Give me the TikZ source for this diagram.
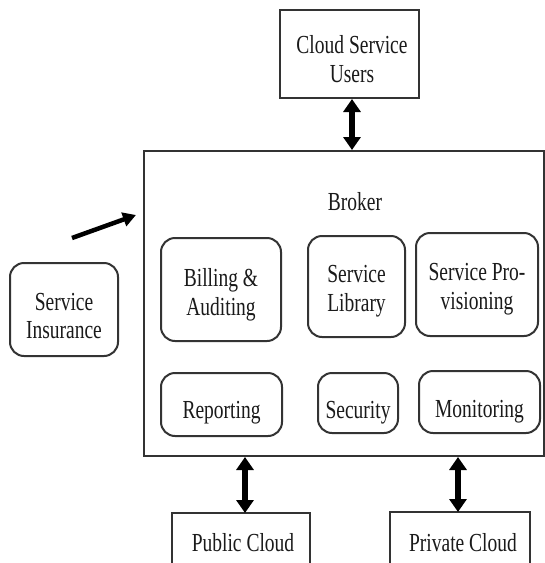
\documentclass[tikz,border=0pt]{standalone}
\usepackage{fontspec}
\setmainfont{Liberation Serif}[FakeStretch=0.75]
\usetikzlibrary{arrows.meta}
\definecolor{ink}{HTML}{333333}
\definecolor{txt}{HTML}{1a1a1a}
\begin{document}
\begin{tikzpicture}[x=1pt,y=-1pt,
  sqbox/.style={draw=ink,line width=2pt,fill=none,inner sep=0pt},
  rbox/.style={sqbox,rounded corners=14pt},
  lbl/.style={text=txt,align=center,inner sep=0pt,
    font=\fontsize{26}{28.5}\selectfont},
  dbl/.style={draw=black,line width=6pt,
    {Triangle[width=17pt,length=13pt]}-{Triangle[width=17pt,length=13pt]}},
  single/.style={draw=black,line width=4.5pt,-{Triangle[width=14pt,length=13pt]}}]
\useasboundingbox (0,0) rectangle (545,563);
\clip (0,0) rectangle (545,563);
\fill[white] (0,0) rectangle (545,563);

% outer boxes
\node[sqbox,minimum width=139pt,minimum height=88pt] (users) at (349.5,54) {};
\node[sqbox,minimum width=400pt,minimum height=305pt] (broker) at (344,303.5) {};
\node[sqbox,minimum width=138pt,minimum height=87pt] (public) at (241,556.5) {};
\node[sqbox,minimum width=140pt,minimum height=88pt] (private) at (460,556) {};

% components inside the broker
\node[rbox,minimum width=108pt,minimum height=93pt] (insurance) at (64,309.5) {};
\node[rbox,minimum width=120pt,minimum height=103pt] (billing) at (221,289.5) {};
\node[rbox,minimum width=97pt,minimum height=101pt] (library) at (356.5,286.5) {};
\node[rbox,minimum width=122pt,minimum height=103pt] (prov) at (477,284.5) {};
\node[rbox,minimum width=121pt,minimum height=63pt] (reporting) at (221.5,404.5) {};
\node[rbox,minimum width=80pt,minimum height=60pt] (security) at (358,403) {};
\node[rbox,minimum width=121pt,minimum height=62pt] (monitoring) at (479.5,402) {};

% labels
\node[lbl] (usersT) at (352,59) {Cloud Service\\Users};
\node[lbl] (brokerT) at (355,202) {Broker};
\node[lbl] (insuranceT) at (64,316) {Service\\Insurance};
\node[lbl] (billingT) at (221,295) {Billing \&\\Auditing};
\node[lbl] (libraryT) at (356.5,291) {Service\\Library};
\node[lbl] (provT) at (477,289) {Service Pro-\\visioning};
\node[lbl] (reportingT) at (221.5,413) {Reporting};
\node[lbl] (securityT) at (358,413) {Security};
\node[lbl] (monitoringT) at (479.5,412) {Monitoring};
\node[lbl] (publicT) at (243,543) {Public Cloud};
\node[lbl] (privateT) at (463,543) {Private Cloud};

% connectors
\coordinate (uA) at (352,99);
\draw[dbl] (uA) -- (uA |- broker.north);
\coordinate (pA) at (245,513);
\draw[dbl] (pA |- broker.south) -- (pA);
\coordinate (vA) at (458,512);
\draw[dbl] (vA |- broker.south) -- (vA);
\coordinate (insTail) at (72,238);
\coordinate (insHead) at (136,215);
\draw[single] (insTail) -- (insHead);
\end{tikzpicture}
\end{document}
